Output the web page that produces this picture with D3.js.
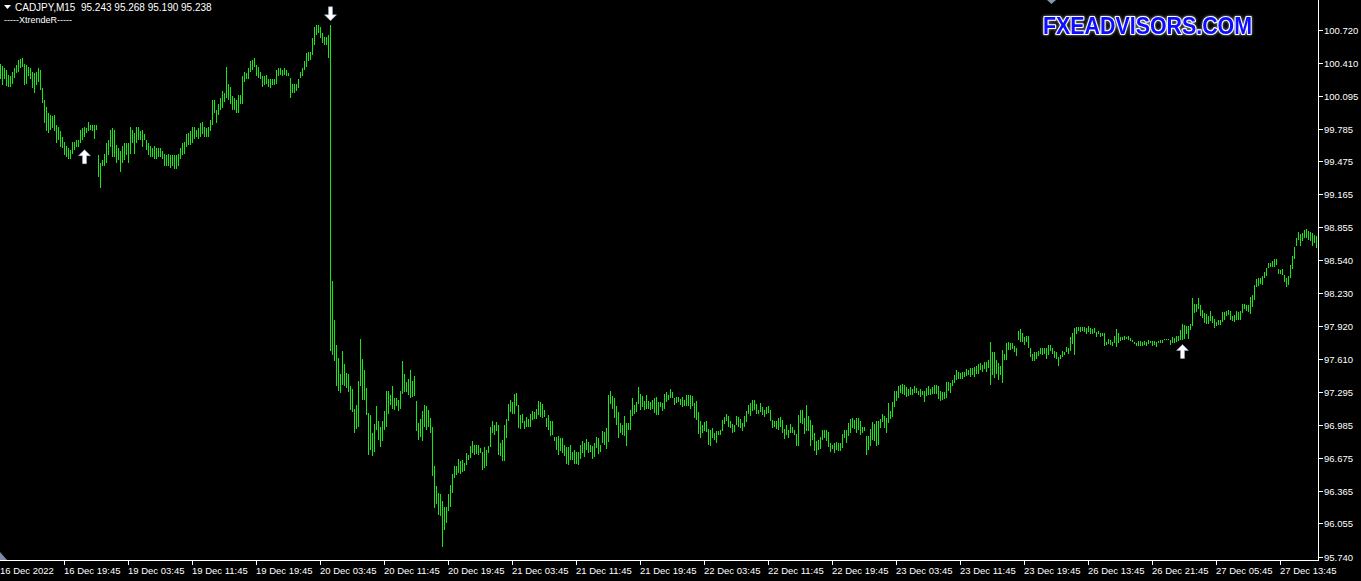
<!DOCTYPE html>
<html><head><meta charset="utf-8">
<script src="https://cdn.jsdelivr.net/npm/d3@7"></script>
<style>html,body{margin:0;padding:0;background:#000;overflow:hidden}</style>
</head><body><svg id="c" width="1361" height="581"></svg>
<script>
// ---- data (CADJPY M15 bars) ----
const highs = [
100.40,100.38,100.36,100.34,100.29,100.28,100.32,100.36,100.39,100.43,
100.44,100.45,100.40,100.39,100.37,100.36,100.32,100.31,100.32,100.36,
100.34,100.17,100.06,99.99,99.93,99.91,99.90,99.91,99.82,99.80,
99.76,99.71,99.66,99.62,99.60,99.58,99.66,99.66,99.68,99.68,
99.77,99.79,99.80,99.79,99.85,99.82,99.82,99.82,99.82,99.54,
99.46,99.49,99.55,99.65,99.68,99.77,99.79,99.77,99.63,99.60,
99.57,99.62,99.65,99.65,99.65,99.80,99.77,99.74,99.80,99.80,
99.76,99.77,99.73,99.68,99.65,99.62,99.60,99.62,99.60,99.60,
99.60,99.57,99.55,99.54,99.55,99.54,99.54,99.54,99.54,99.55,
99.60,99.65,99.66,99.73,99.74,99.76,99.80,99.80,99.77,99.79,
99.84,99.85,99.80,99.79,99.80,99.87,100.06,100.06,99.96,100.02,
100.07,100.14,100.12,100.37,100.21,100.18,100.09,100.07,100.06,100.10,
100.10,100.28,100.32,100.31,100.36,100.42,100.43,100.45,100.39,100.37,
100.32,100.28,100.28,100.29,100.25,100.25,100.25,100.25,100.34,100.36,
100.36,100.34,100.36,100.34,100.31,100.26,100.21,100.21,100.21,100.25,
100.32,100.36,100.42,100.50,100.51,100.51,100.64,100.75,100.76,100.76,
100.75,100.69,100.65,100.65,100.67,100.76,98.35,97.98,97.74,97.62,
97.47,97.68,97.56,97.48,97.47,97.35,97.32,97.14,97.17,97.40,
97.80,97.61,97.50,97.33,97.10,97.08,96.91,96.99,97.16,97.02,
96.97,97.02,97.12,97.31,97.31,97.27,97.35,97.24,97.24,97.22,
97.31,97.59,97.47,97.39,97.42,97.50,97.40,97.45,97.21,97.00,
97.04,97.12,97.17,97.16,97.13,97.05,96.97,96.60,96.41,96.34,
96.33,96.27,96.21,96.21,96.33,96.42,96.52,96.60,96.60,96.66,
96.64,96.65,96.63,96.72,96.70,96.79,96.83,96.80,96.80,96.80,
96.77,96.73,96.78,96.75,96.79,96.97,97.02,96.98,97.01,96.98,
96.81,96.84,96.98,97.04,97.18,97.22,97.20,97.28,97.29,97.17,
97.08,97.09,97.02,97.06,97.04,97.09,97.12,97.11,97.14,97.21,
97.20,97.18,97.13,97.05,97.08,97.02,97.02,96.87,96.87,96.88,
96.86,96.86,96.80,96.78,96.78,96.80,96.73,96.75,96.73,96.73,
96.80,96.83,96.81,96.85,96.82,96.80,96.79,96.81,96.87,96.86,
96.80,96.93,96.92,96.96,97.27,97.31,97.26,97.24,97.16,97.11,
97.00,96.98,97.07,97.00,97.00,97.13,97.24,97.17,97.20,97.34,
97.28,97.26,97.21,97.27,97.21,97.20,97.22,97.24,97.25,97.20,
97.20,97.19,97.28,97.30,97.27,97.32,97.30,97.24,97.25,97.25,
97.23,97.25,97.22,97.27,97.27,97.27,97.26,97.19,97.21,97.11,
97.02,96.98,97.01,97.02,96.95,96.94,96.96,96.91,96.93,96.93,
96.94,97.03,97.06,97.09,97.07,97.02,96.99,96.98,97.07,97.06,
97.04,97.00,97.07,97.12,97.17,97.19,97.22,97.22,97.18,97.13,
97.19,97.15,97.13,97.15,97.16,97.13,97.03,97.02,97.02,97.05,
97.06,97.03,96.95,96.98,96.94,96.99,96.97,96.94,96.90,97.08,
97.13,97.13,97.05,97.17,97.07,97.03,96.98,96.91,96.83,96.84,
96.87,96.94,96.94,96.94,96.92,96.81,96.80,96.81,96.82,96.81,
96.81,96.90,96.94,96.94,97.00,97.04,97.05,97.03,97.05,97.05,
97.02,96.97,96.97,96.88,96.88,96.95,97.01,96.99,97.02,97.02,
97.04,97.09,97.07,97.05,97.19,97.12,97.20,97.31,97.31,97.35,
97.36,97.37,97.36,97.34,97.32,97.34,97.32,97.35,97.33,97.31,
97.32,97.31,97.31,97.33,97.35,97.32,97.34,97.36,97.36,97.35,
97.31,97.30,97.30,97.39,97.39,97.38,97.41,97.46,97.50,97.49,
97.48,97.49,97.49,97.51,97.50,97.52,97.52,97.53,97.54,97.56,
97.57,97.55,97.58,97.58,97.60,97.77,97.67,97.67,97.60,97.57,
97.54,97.69,97.66,97.76,97.77,97.76,97.76,97.73,97.71,97.87,
97.89,97.85,97.82,97.83,97.83,97.71,97.66,97.67,97.67,97.68,
97.71,97.71,97.71,97.71,97.74,97.74,97.71,97.68,97.67,97.63,
97.65,97.68,97.67,97.72,97.71,97.82,97.85,97.90,97.91,97.91,
97.91,97.91,97.91,97.90,97.92,97.90,97.89,97.90,97.86,97.87,
97.85,97.85,97.85,97.77,97.80,97.79,97.77,97.83,97.89,97.85,
97.82,97.82,97.83,97.82,97.83,97.81,97.79,97.77,97.76,97.78,
97.78,97.77,97.78,97.77,97.79,97.78,97.78,97.78,97.77,97.78,
97.79,97.79,97.80,97.80,97.80,97.79,97.82,97.81,97.83,97.83,
97.88,97.94,97.93,97.92,97.92,97.94,98.18,98.13,98.13,98.18,
98.12,98.07,98.04,98.03,98.01,98.06,98.01,97.99,97.96,97.98,
97.98,98.05,98.05,98.06,98.07,98.06,98.01,98.02,98.06,98.05,
98.06,98.13,98.13,98.12,98.12,98.19,98.21,98.31,98.36,98.37,
98.37,98.39,98.43,98.47,98.52,98.52,98.53,98.55,98.55,98.46,
98.45,98.46,98.40,98.37,98.39,98.50,98.58,98.67,98.75,98.81,
98.79,98.80,98.83,98.84,98.82,98.81,98.80,98.78,98.77
];
const lows = [
100.25,100.20,100.25,100.19,100.18,100.18,100.21,100.26,100.31,100.32,
100.36,100.37,100.20,100.21,100.28,100.25,100.17,100.12,100.20,100.23,
100.15,100.03,99.84,99.76,99.74,99.77,99.79,99.76,99.65,99.68,
99.61,99.60,99.54,99.52,99.50,99.50,99.55,99.58,99.61,99.61,
99.65,99.68,99.71,99.74,99.76,99.77,99.76,99.69,99.77,99.33,
99.22,99.43,99.43,99.46,99.54,99.61,99.52,99.52,99.46,99.49,
99.38,99.46,99.49,99.54,99.46,99.55,99.65,99.55,99.65,99.68,
99.68,99.61,99.68,99.58,99.54,99.52,99.52,99.50,99.50,99.52,
99.52,99.50,99.43,99.43,99.43,99.41,99.43,99.40,99.40,99.43,
99.50,99.54,99.55,99.61,99.63,99.63,99.65,99.69,99.71,99.69,
99.71,99.73,99.71,99.71,99.71,99.76,99.82,99.93,99.84,99.91,
99.96,99.98,100.04,100.07,100.06,100.02,99.96,99.96,99.93,99.93,
100.02,100.02,100.23,100.25,100.25,100.32,100.34,100.37,100.28,100.26,
100.25,100.18,100.20,100.21,100.18,100.17,100.20,100.20,100.21,100.28,
100.29,100.28,100.29,100.28,100.28,100.07,100.12,100.12,100.14,100.17,
100.26,100.28,100.34,100.37,100.42,100.43,100.48,100.58,100.67,100.69,
100.64,100.59,100.58,100.58,100.45,97.68,97.65,97.59,97.35,97.31,
97.29,97.36,97.35,97.33,97.30,97.13,97.11,96.91,96.95,96.97,
97.35,97.22,97.22,97.08,96.70,96.75,96.69,96.73,96.94,96.84,
96.78,96.83,96.94,96.97,97.09,97.17,97.14,97.13,97.16,97.12,
97.14,97.28,97.30,97.30,97.27,97.24,97.25,97.26,96.93,96.84,
96.87,96.83,96.97,96.94,96.97,96.91,96.50,96.20,96.24,96.13,
96.12,95.83,95.99,96.06,96.17,96.21,96.34,96.48,96.51,96.53,
96.52,96.54,96.55,96.61,96.65,96.67,96.72,96.70,96.71,96.70,
96.72,96.56,96.58,96.60,96.72,96.78,96.91,96.89,96.93,96.70,
96.69,96.64,96.64,96.86,97.02,97.11,97.09,97.09,97.16,96.96,
96.95,97.00,96.95,96.97,96.97,96.97,97.03,97.04,97.04,97.08,
97.06,97.05,97.06,96.97,96.94,96.88,96.89,96.83,96.75,96.70,
96.74,96.72,96.69,96.62,96.61,96.65,96.65,96.62,96.62,96.61,
96.66,96.72,96.68,96.75,96.72,96.73,96.66,96.68,96.77,96.71,
96.73,96.81,96.80,96.76,96.82,97.18,97.14,97.05,96.98,96.86,
96.91,96.89,96.88,96.79,96.94,96.94,97.07,97.09,97.11,97.18,
97.13,97.15,97.13,97.14,97.14,97.13,97.14,97.10,97.08,97.08,
97.15,97.12,97.14,97.20,97.22,97.24,97.24,97.17,97.19,97.20,
97.17,97.15,97.16,97.16,97.16,97.14,97.16,97.05,97.03,96.90,
96.86,96.91,96.93,96.92,96.80,96.79,96.86,96.84,96.81,96.89,
96.89,96.93,96.99,97.02,96.97,96.96,96.91,96.92,96.98,96.97,
96.96,96.93,96.97,97.01,97.09,97.07,97.12,97.13,97.09,97.09,
97.11,97.08,97.06,97.09,97.10,97.02,96.96,96.97,96.95,96.94,
96.97,96.91,96.85,96.89,96.86,96.91,96.91,96.89,96.79,96.79,
97.00,96.99,96.90,96.93,96.93,96.79,96.84,96.74,96.70,96.75,
96.76,96.84,96.86,96.83,96.78,96.73,96.76,96.72,96.75,96.74,
96.74,96.77,96.86,96.81,96.88,96.91,96.96,96.95,96.91,96.94,
96.89,96.91,96.93,96.70,96.75,96.79,96.84,96.83,96.79,96.80,
96.96,97.01,96.96,96.91,97.00,97.04,97.06,97.15,97.21,97.24,
97.29,97.28,97.27,97.25,97.26,97.27,97.27,97.29,97.29,97.27,
97.25,97.27,97.20,97.26,97.27,97.27,97.28,97.28,97.28,97.23,
97.21,97.22,97.23,97.24,97.31,97.29,97.35,97.38,97.41,97.42,
97.42,97.42,97.44,97.45,97.46,97.44,97.46,97.44,97.47,97.47,
97.50,97.49,97.51,97.49,97.52,97.36,97.46,97.43,97.47,97.41,
97.46,97.38,97.60,97.60,97.69,97.69,97.70,97.67,97.64,97.79,
97.77,97.77,97.74,97.77,97.71,97.63,97.59,97.59,97.61,97.64,
97.66,97.65,97.66,97.61,97.65,97.68,97.66,97.62,97.61,97.54,
97.61,97.63,97.65,97.67,97.66,97.68,97.75,97.65,97.84,97.87,
97.86,97.87,97.86,97.84,97.86,97.84,97.84,97.85,97.82,97.84,
97.82,97.83,97.73,97.74,97.75,97.74,97.73,97.76,97.72,97.76,
97.78,97.79,97.79,97.80,97.79,97.78,97.77,97.75,97.73,97.73,
97.73,97.73,97.74,97.73,97.75,97.76,97.73,97.74,97.72,97.76,
97.76,97.76,97.79,97.79,97.79,97.74,97.76,97.76,97.77,97.78,
97.79,97.79,97.80,97.84,97.80,97.88,97.92,98.04,98.05,98.08,
98.01,98.00,97.95,97.94,97.94,97.97,97.95,97.90,97.92,97.93,
97.93,97.96,97.98,98.01,98.02,97.98,97.97,97.96,97.98,97.98,
97.98,98.04,98.08,98.06,98.05,98.03,98.10,98.17,98.29,98.30,
98.32,98.31,98.37,98.39,98.47,98.48,98.48,98.48,98.50,98.41,
98.41,98.40,98.34,98.29,98.31,98.37,98.46,98.55,98.68,98.73,
98.68,98.72,98.75,98.75,98.73,98.72,98.68,98.70,98.66
];
const priceTicks = [100.720,100.410,100.095,99.785,99.475,99.165,98.855,98.540,98.230,97.920,97.610,97.295,96.985,96.675,96.365,96.055,95.740];
const timeLabels = ["16 Dec 2022","16 Dec 19:45","19 Dec 03:45","19 Dec 11:45","19 Dec 19:45","20 Dec 03:45","20 Dec 11:45","20 Dec 19:45","21 Dec 03:45","21 Dec 11:45","21 Dec 19:45","22 Dec 03:45","22 Dec 11:45","22 Dec 19:45","23 Dec 03:45","23 Dec 11:45","23 Dec 19:45","26 Dec 13:45","26 Dec 21:45","27 Dec 05:45","27 Dec 13:45"];
const barsPerLabel = 32;
const signalIndex = [42, 165, 591];
const signalDir = ["up", "down", "up"];
const signalPrice = [99.52, 100.87, 97.68];
const symbolText = "CADJPY,M15";
const ohlcText = "95.243 95.268 95.190 95.238";
const indicatorName = "-----XtrendeR-----";
const watermark = "FXEADVISORS.COM";

// ---- drawing ----
const W = 1361, H = 581;
const plotRight = 1318, plotBottom = 560;
const svg = d3.select("#c");
svg.append("rect").attr("width", W).attr("height", H).attr("fill", "#000");

const x = d3.scaleLinear().domain([0, 659]).range([0, 1318]);
const y = d3.scaleLinear().domain([95.74, 100.72]).range([556.7, 29.7]);

const bars = d3.range(highs.length).map(i => ({i, h: highs[i], l: lows[i]}));
svg.append("g").selectAll("rect").data(bars).join("rect")
  .attr("x", d => x(d.i)).attr("width", 1)
  .attr("y", d => Math.round(y(d.h)))
  .attr("height", d => Math.max(1, Math.round(y(d.l)) - Math.round(y(d.h))))
  .attr("fill", "#16e816");

// axes lines
svg.append("line").attr("x1", plotRight + 0.5).attr("x2", plotRight + 0.5).attr("y1", 0).attr("y2", plotBottom + 1)
  .attr("stroke", "#fff").attr("stroke-width", 1);
svg.append("line").attr("x1", 0).attr("x2", plotRight + 1).attr("y1", plotBottom + 0.5).attr("y2", plotBottom + 0.5)
  .attr("stroke", "#fff").attr("stroke-width", 1);

const font = "'Liberation Sans', Arial, sans-serif";
// price axis
const pg = svg.append("g");
priceTicks.forEach(v => {
  const yy = Math.round(y(v)) + 0.5;
  pg.append("line").attr("x1", plotRight + 1).attr("x2", plotRight + 5).attr("y1", yy).attr("y2", yy)
    .attr("stroke", "#fff");
  pg.append("text").attr("x", plotRight + 6).attr("y", yy + 3.5)
    .attr("fill", "#fff").attr("font-family", font).attr("font-size", 9.5)
    .text(d3.format(".3f")(v));
});
// time axis
const tg = svg.append("g");
timeLabels.forEach((t, k) => {
  const xx = x(k * barsPerLabel);
  if (k > 0) tg.append("line").attr("x1", xx + 0.5).attr("x2", xx + 0.5).attr("y1", plotBottom + 1).attr("y2", plotBottom + 5)
    .attr("stroke", "#fff");
  tg.append("text").attr("x", k > 0 ? xx : 0).attr("y", 574)
    .attr("fill", "#fff").attr("font-family", font).attr("font-size", 9.5).text(t);
});

// signal arrows
signalIndex.forEach((idx, k) => {
  const cx = x(idx) + 0.5, cy = y(signalPrice[k]);
  const s = signalDir[k] === "up" ? 1 : -1;
  const p = d3.path();
  p.moveTo(cx, cy - 7 * s);
  p.lineTo(cx + 6, cy - 1 * s);
  p.lineTo(cx + 2, cy - 1 * s);
  p.lineTo(cx + 2, cy + 7 * s);
  p.lineTo(cx - 2, cy + 7 * s);
  p.lineTo(cx - 2, cy - 1 * s);
  p.lineTo(cx - 6, cy - 1 * s);
  p.closePath();
  svg.append("path").attr("d", p.toString()).attr("fill", "#fff")
    .attr("stroke", "#9fb0d0").attr("stroke-width", 0.5);
});

// header
svg.append("path").attr("d", "M4,5 L11,5 L7.5,9 Z").attr("fill", "#fff");
svg.append("text").attr("x", 15).attr("y", 10.5).attr("fill", "#fff").attr("font-family", font).attr("font-size", 10)
  .attr("xml:space", "preserve").text(symbolText + "  " + ohlcText);
svg.append("text").attr("x", 4).attr("y", 22.5).attr("fill", "#fff").attr("font-family", font).attr("font-size", 9)
  .text(indicatorName);

// small gray markers
svg.append("path").attr("d", "M1047,0 L1056,0 L1051.5,4 Z").attr("fill", "#8796ad");
svg.append("path").attr("d", "M0,552 L0,560 L7,560 Z").attr("fill", "#7d8ca3");

// watermark
const defs = svg.append("defs");
const f = defs.append("filter").attr("id", "glow").attr("x", "-10%").attr("y", "-40%").attr("width", "120%").attr("height", "180%");
f.append("feGaussianBlur").attr("in", "SourceAlpha").attr("stdDeviation", 1.5).attr("result", "b");
f.append("feFlood").attr("flood-color", "#9a9a9a").attr("result", "c");
f.append("feComposite").attr("in", "c").attr("in2", "b").attr("operator", "in").attr("result", "g");
const m = f.append("feMerge");
m.append("feMergeNode").attr("in", "g");
m.append("feMergeNode").attr("in", "SourceGraphic");
svg.append("text").attr("x", 1043).attr("y", 33.5)
  .attr("font-family", font).attr("font-weight", "bold").attr("font-size", 23)
  .attr("textLength", 209).attr("lengthAdjust", "spacingAndGlyphs")
  .attr("fill", "#0b0bff").attr("stroke", "#fff").attr("stroke-width", 2.2)
  .attr("paint-order", "stroke").attr("stroke-linejoin", "round")
  .attr("filter", "url(#glow)")
  .text(watermark);
</script>
</body></html>
